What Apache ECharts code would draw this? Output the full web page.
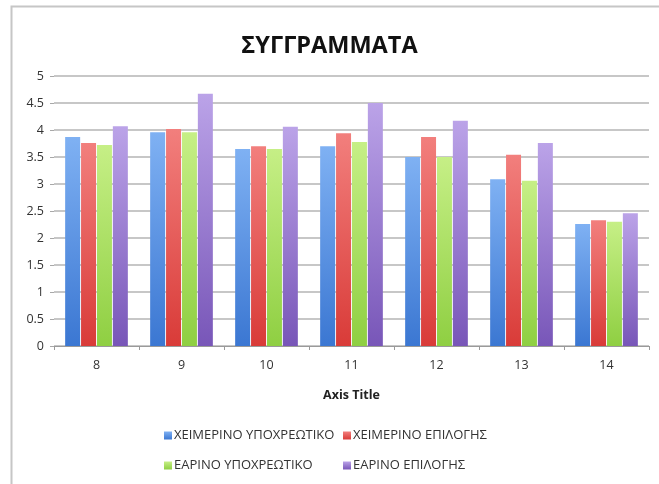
<!DOCTYPE html>
<html><head><meta charset="utf-8">
<script src="https://cdn.jsdelivr.net/npm/echarts@6/dist/echarts.min.js"></script>
<style>html,body{margin:0;padding:0;background:#fff}#c{width:659px;height:484px}</style>
</head><body><div id="c"></div>
<script>
const categories = ['8','9','10','11','12','13','14'];
const seriesNames = ['ΧΕΙΜΕΡΙΝΟ ΥΠΟΧΡΕΩΤΙΚΟ','ΧΕΙΜΕΡΙΝΟ ΕΠΙΛΟΓΗΣ','ΕΑΡΙΝΟ ΥΠΟΧΡΕΩΤΙΚΟ','ΕΑΡΙΝΟ ΕΠΙΛΟΓΗΣ'];
const winterCompulsory = [3.87, 3.96, 3.65, 3.70, 3.50, 3.09, 2.26];
const winterElective   = [3.76, 4.02, 3.70, 3.94, 3.87, 3.54, 2.33];
const springCompulsory = [3.72, 3.96, 3.65, 3.78, 3.50, 3.06, 2.30];
const springElective   = [4.07, 4.67, 4.06, 4.50, 4.17, 3.76, 2.46];
const yTicks = [0, 0.5, 1, 1.5, 2, 2.5, 3, 3.5, 4, 4.5, 5];

const values = [winterCompulsory, winterElective, springCompulsory, springElective];
const grads = [
  ['#7fb1f3', '#3b77d2'],
  ['#f27f7d', '#d93b38'],
  ['#c6ef86', '#8fcf42'],
  ['#bba3e8', '#7856b8']
];
const FONT = '"Open Sans", "Noto Sans", sans-serif';
function grad(c){return {type:'linear',x:0,y:0,x2:0,y2:1,colorStops:[{offset:0,color:c[0]},{offset:1,color:c[1]}]};}

const legendPos = [[164,429],[343,429],[164,459],[343,459]];
const chart = echarts.init(document.getElementById('c'), null, {renderer:'canvas'});
chart.setOption({
  animation:false,
  backgroundColor:'#fff',
  textStyle:{fontFamily:FONT},
  title:{text:'ΣΥΓΓΡΑΜΜΑΤΑ', left:'center', top:29,
    textStyle:{fontFamily:FONT, fontWeight:'bold', fontSize:23.5, color:'#111'}},
  graphic:[{type:'rect', shape:{x:11.5,y:6.5,width:700,height:600},
    style:{fill:'none', stroke:'#c6c6c6', lineWidth:2}, silent:true}],
  legend: seriesNames.map((n,i)=>({
    data:[n], left:legendPos[i][0], top:legendPos[i][1], icon:'rect',
    itemWidth:8, itemHeight:8, itemGap:4, padding:0,
    textStyle:{fontFamily:FONT, fontSize:13, color:'#333', padding:[0,0,0,-3]}
  })),
  grid:{left:54, right:10, top:76, bottom:138},
  xAxis:{type:'category', data:categories,
    name:'Axis Title', nameLocation:'middle', nameGap:43,
    nameTextStyle:{fontFamily:FONT, fontWeight:'bold', fontSize:12.5, color:'#222'},
    axisLine:{lineStyle:{color:'#9a9a9a', width:1}},
    axisTick:{show:true, length:4, lineStyle:{color:'#9a9a9a'}},
    axisLabel:{fontFamily:FONT, fontSize:12.5, color:'#333', margin:13}},
  yAxis:{type:'value', min:0, max:5, interval:0.5,
    axisLine:{show:false},
    axisTick:{show:true, length:4, lineStyle:{color:'#a8a8a8'}},
    axisLabel:{fontFamily:FONT, fontSize:12.5, color:'#333', margin:10,
      formatter:v=>yTicks.includes(v)?String(v):''},
    splitLine:{lineStyle:{color:'#b4b4b4', width:1.5}}},
  series: values.map((d,i)=>({
    name:seriesNames[i], type:'bar', data:d,
    barWidth:15, barGap:'6%',
    itemStyle:{color:grad(grads[i])}
  }))
});
</script></body></html>
